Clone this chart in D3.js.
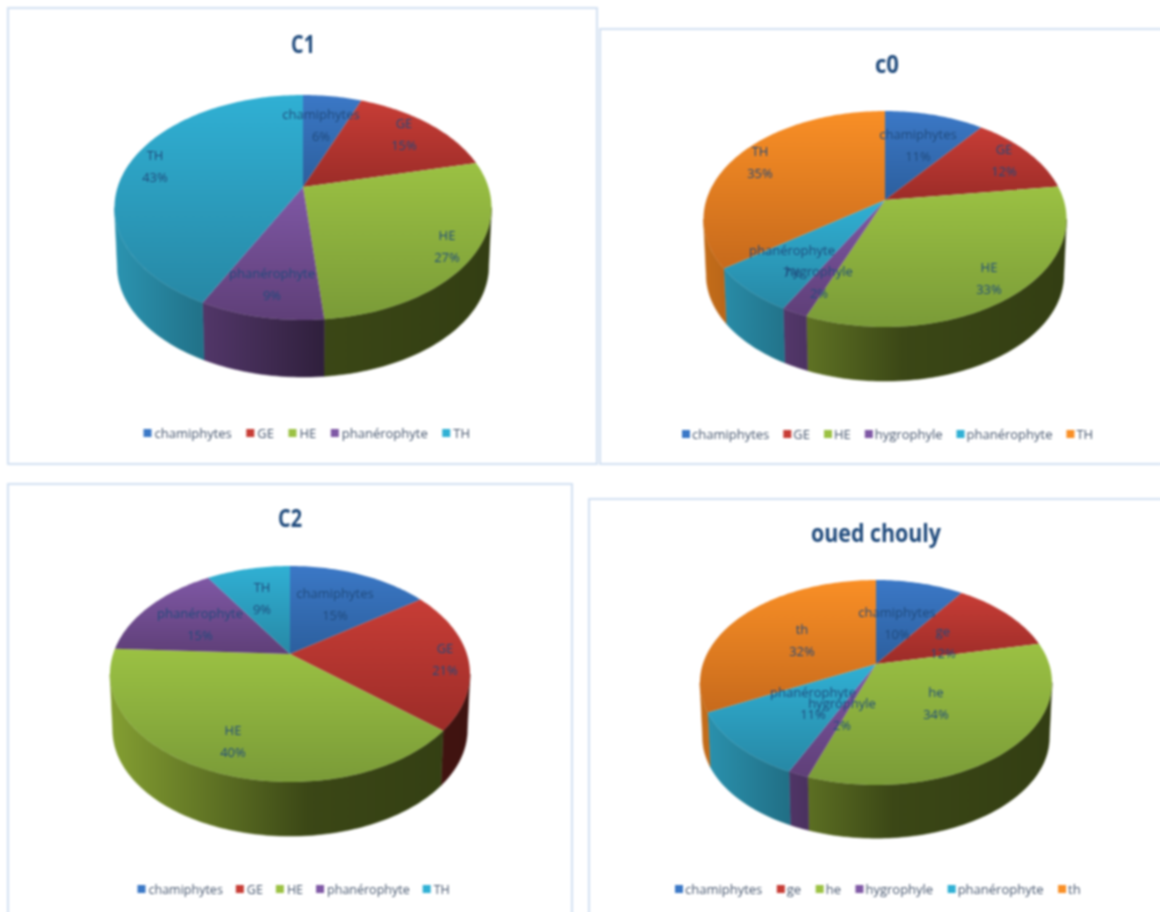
<!DOCTYPE html>
<html><head><meta charset="utf-8">
<script src="https://cdn.jsdelivr.net/npm/d3@7/dist/d3.min.js"></script>
<style>html,body{margin:0;padding:0;background:#fff;overflow:hidden}svg{display:block}</style>
</head><body><svg id="chart" width="1160" height="912"></svg>
<script>
// ---- data (percent; labels show the rounded value) ----
const c1Names = ["chamiphytes","GE","HE","phanérophyte","TH"];
const c1Values = [6,15.3,27.2,9,42.5];
const c1Colors = ["blue","red","green","purple","teal"];
const c0Names = ["chamiphytes","GE","HE","hygrophyle","phanérophyte","TH"];
const c0Values = [10.5,12.4,33.1,2,7,35];
const c0Colors = ["blue","red","green","purple","teal","orange"];
const c2Names = ["chamiphytes","GE","HE","phanérophyte","TH"];
const c2Values = [15.2,21,39.6,15.2,9];
const c2Colors = ["blue","red","green","purple","teal"];
const ouedNames = ["chamiphytes","ge","he","hygrophyle","phanérophyte","th"];
const ouedValues = [9.6,12,33.7,1.6,10.7,32.4];
const ouedColors = ["blue","red","green","purple","teal","orange"];

// ---- styling and layout ----
const palette = {
  blue:  ["#3b78c6","#2c5f9e"], red:   ["#c73d36","#9c2c28"],
  green: ["#9bc143","#7a9b38"], purple:["#7f58a5","#5f3f78"],
  teal:  ["#30b0d4","#2788a5"], orange:["#f98f26","#c76a1c"]
};
const wallBase = {blue:"#3a76c4",red:"#c0392f",green:"#9bbb3b",purple:"#7d54a0",teal:"#33aed0",orange:"#e8801f"};
const panels = [
 {title:"C1",names:c1Names,values:c1Values,colors:c1Colors,box:[8,8,589,456],
  ax:303,ay:187,left:114,right:491,top:95,near:320,depth:59,titleX:303,titleY:46,titleW:24,
  legY:433,legStart:143.5,legGap:14.5,legSize:13,legOff:11,
  lab:[[321,115],[404,124],[447,236],[272,274],[155,156]]},
 {title:"c0",names:c0Names,values:c0Values,colors:c0Colors,box:[600,29,600,435],
  ax:885,ay:200,left:703,right:1066,top:111,near:327,depth:56,titleX:887,titleY:66,titleW:24,
  legY:434,legStart:682,legGap:14,legSize:13,legOff:10,
  lab:[[918,135],[1004,150],[989,268],[819,272],[792,251],[760,152]]},
 {title:"C2",names:c2Names,values:c2Values,colors:c2Colors,box:[8,484,564,440],
  ax:290,ay:654,left:110,right:470,top:566,near:782,depth:56,titleX:290,titleY:520,titleW:24,
  legY:889,legStart:137.5,legGap:13,legSize:12.5,legOff:11,
  lab:[[335,594],[445,649],[233,731],[200,614],[262,588]]},
 {title:"oued chouly",names:ouedNames,values:ouedValues,colors:ouedColors,box:[589,499,600,430],
  ax:876,ay:664,left:700,right:1052,top:580,near:785,depth:55,titleX:876,titleY:535,titleW:130,
  legY:889,legStart:675,legGap:14.5,legSize:13,legOff:10,
  lab:[[897,613],[943,632],[936,693],[842,704],[813,693],[802,630]]}
];
const labelFont = "'Open Sans','Noto Sans',sans-serif";
const svg = d3.select("#chart");
const defs = svg.append("defs");
const root = svg.append("g").style("filter","blur(0.9px)");
root.append("rect").attr("width",1160).attr("height",912).attr("fill","#fff");

Object.keys(palette).forEach(k=>{
  const g = defs.append("linearGradient").attr("id","top-"+k).attr("x1",0).attr("x2",0).attr("y1",0).attr("y2",1);
  g.append("stop").attr("offset",0).attr("stop-color",palette[k][0]);
  g.append("stop").attr("offset",1).attr("stop-color",palette[k][1]);
});
function wallGradient(id,key,x0,x1){
  const g = defs.append("linearGradient").attr("id",id).attr("gradientUnits","userSpaceOnUse")
    .attr("x1",x0).attr("x2",x1).attr("y1",0).attr("y2",0);
  [[0,.85],[.3,.6],[.55,.38],[1,.33]].forEach(([o,m])=>{
    const c = d3.rgb(wallBase[key]);
    g.append("stop").attr("offset",o).attr("stop-color",d3.rgb(c.r*m,c.g*m,c.b*m).formatHex());
  });
}

panels.forEach((p,pi)=>{
  const g = root.append("g");
  g.append("rect").attr("x",p.box[0]).attr("y",p.box[1]).attr("width",p.box[2]).attr("height",p.box[3])
    .attr("fill","#fff").attr("stroke","#d3e1f2").attr("stroke-width",2);
  g.append("text").attr("x",p.titleX).attr("y",p.titleY).attr("text-anchor","middle").attr("dominant-baseline","middle")
    .attr("font-family",labelFont).attr("font-weight",700).attr("font-size",25).attr("fill","#1f4a7c")
    .attr("textLength",p.titleW).attr("lengthAdjust","spacingAndGlyphs").text(p.title);

  // perspective projection of the disc: far half is shorter than the near half
  const far = p.ay-p.top, near = p.near-p.ay;
  const k = (near-far)/(near+far), b = far*(1+k);
  const R = (p.right-p.left)/2*Math.sqrt(1-k*k);
  const rim = (a,scale=1,dy=0)=>{
    const s = 1/(1+k*Math.cos(a));
    return [p.ax+R*scale*Math.sin(a)*s, p.ay+dy+b*scale*(-Math.cos(a))*s];
  };
  const line = d3.line();
  const sample = (a0,a1,scale,dy)=>{
    const n = Math.max(2,Math.ceil(Math.abs(a1-a0)/0.02));
    return d3.range(n+1).map(i=>rim(a0+(a1-a0)*i/n,scale,dy));
  };
  const arcs = d3.pie().sort(null).value(d=>d)(p.values);
  const aMin = Math.acos(-k), aMax = 2*Math.PI-aMin;

  // side wall
  arcs.forEach((a,i)=>{
    const a0 = Math.max(a.startAngle,aMin), a1 = Math.min(a.endAngle,aMax);
    if(a1<=a0) return;
    const key = p.colors[i], id = `wall-${pi}-${i}`;
    wallGradient(id,key,p.left,p.right);
    const pts = sample(a0,a1,1,0).concat(sample(a1,a0,0.985,p.depth));
    g.append("path").attr("d",line(pts)+"Z").attr("fill",`url(#${id})`).attr("stroke",`url(#${id})`).attr("stroke-width",.5);
  });
  // top face
  arcs.forEach((a,i)=>{
    const pts = [[p.ax,p.ay]].concat(sample(a.startAngle,a.endAngle,1,0));
    g.append("path").attr("d",line(pts)+"Z").attr("fill",`url(#top-${p.colors[i]})`);
  });
  // data labels
  p.names.forEach((n,i)=>{
    const t = g.append("text").attr("text-anchor","middle").attr("font-family",labelFont)
      .attr("font-size",13).attr("fill","#1f4a7c");
    t.append("tspan").attr("x",p.lab[i][0]).attr("y",p.lab[i][1]+4).text(n);
    t.append("tspan").attr("x",p.lab[i][0]).attr("y",p.lab[i][1]+26).text(Math.round(p.values[i])+"%");
  });
  // legend
  let x = p.legStart;
  p.names.forEach((n,i)=>{
    g.append("rect").attr("x",x).attr("y",p.legY-4).attr("width",8).attr("height",8).attr("fill",palette[p.colors[i]][0]);
    const t = g.append("text").attr("x",x+p.legOff).attr("y",p.legY+4.5).attr("font-family",labelFont)
      .attr("font-size",p.legSize).attr("fill","#46566e").text(n);
    x += p.legOff + t.node().getComputedTextLength() + p.legGap;
  });
});
</script></body></html>
